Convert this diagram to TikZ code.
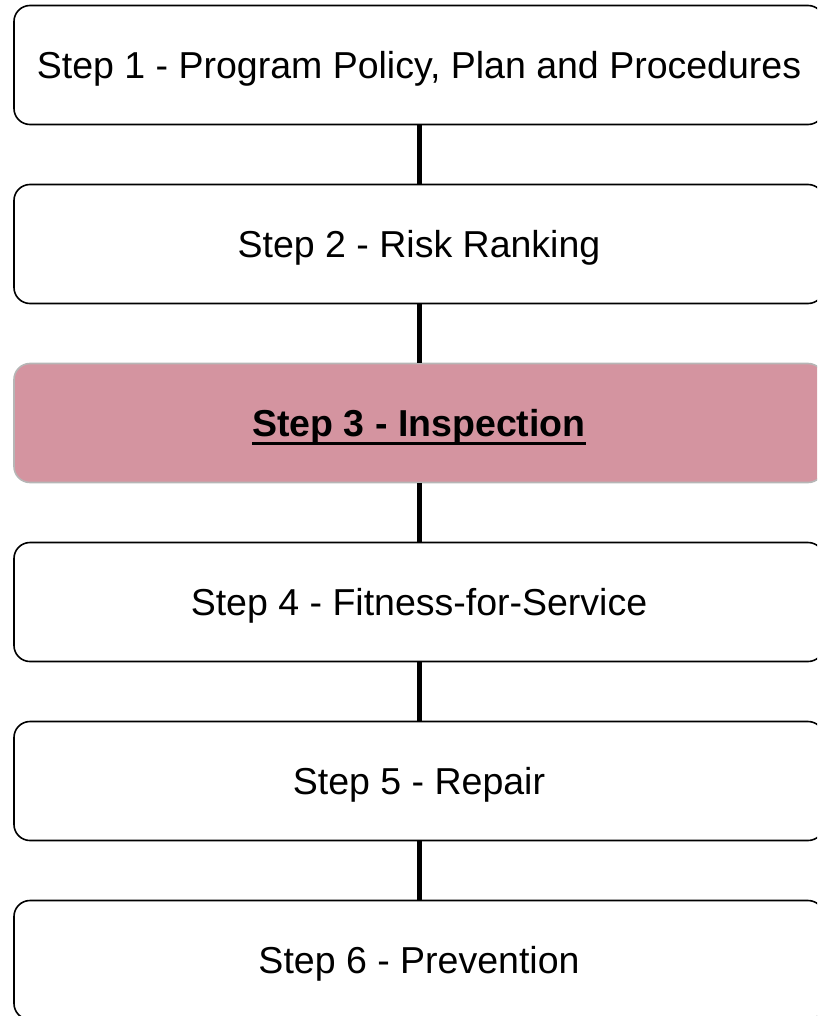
\documentclass[tikz,border=0pt]{standalone}
\usepackage{fontspec}
\setmainfont{Liberation Sans}
\definecolor{boxpink}{RGB}{212,148,160}
\definecolor{boxgray}{RGB}{182,182,182}
\newcommand{\thickul}[1]{\vtop{\hbox{\raisebox{0pt}[\height][0pt]{#1}}\kern5pt\hrule height 3pt}}
\tikzset{
  stepbox/.style={draw, line width=1.6pt, rounded corners=16pt, minimum width=810pt,
    minimum height=119pt, inner sep=0pt, fill=white, text height=27pt, text depth=0pt,
    font=\fontsize{37.5}{45}\selectfont},
  activebox/.style={stepbox, draw=boxgray, fill=boxpink, font=\fontsize{37.5}{45}\selectfont\bfseries},
  link/.style={line width=5pt}
}
\begin{document}
\begin{tikzpicture}[x=1pt, y=-1pt]
\useasboundingbox (0,0) rectangle (817,1016);
\clip (0,0) rectangle (817,1016);

% Schritte
\draw (419,65) node[stepbox] (Step1) {Step 1 - Program Policy, Plan and Procedures};
\draw (419,244) node[stepbox] (Step2) {Step 2 - Risk Ranking};
\draw (419,423) node[activebox] (Step3) {\thickul{Step 3 - Inspection}};
\draw (419,602) node[stepbox] (Step4) {Step 4 - Fitness-for-Service};
\draw (419,781) node[stepbox] (Step5) {Step 5 - Repair};
\draw (419,960) node[stepbox] (Step6) {Step 6 - Prevention};

% Verbindungen
\draw[link] (Step1.south) -- (Step2.north);
\draw[link] (Step2.south) -- (Step3.north);
\draw[link] (Step3.south) -- (Step4.north);
\draw[link] (Step4.south) -- (Step5.north);
\draw[link] (Step5.south) -- (Step6.north);
\end{tikzpicture}
\end{document}
